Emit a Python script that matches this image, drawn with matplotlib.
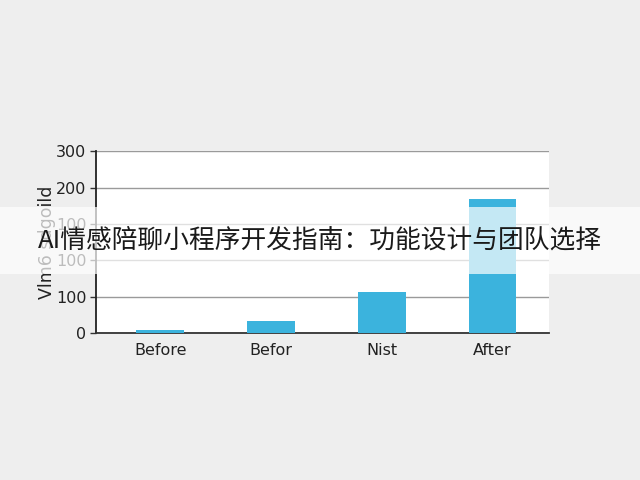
import matplotlib
matplotlib.use('Agg')
import matplotlib.pyplot as plt
from matplotlib.patches import Rectangle

# data
categories = ['Before', 'Befor', 'Nist', 'After']
values = [5, 20, 67, 221]
tick_values = [0, 60, 120, 180, 240, 300]
tick_labels = ['0', '100', '100', '100', '200', '300']
y_label = 'Vlm6 sdgoild'
title = 'AI情感陪聊小程序开发指南：功能设计与团队选择'

fig = plt.figure(figsize=(6.4, 4.8), dpi=100)
fig.patch.set_facecolor('#eeeeee')

ax = fig.add_axes([0.15, 0.306, 0.708, 0.379])
ax.set_facecolor('white')
x = list(range(len(categories)))
ax.bar(x, values, width=0.43, color='#3bb3dd', zorder=3)

ax.set_xlim(-0.58, 3.51)
ax.set_ylim(0, 300)
ax.set_yticks(tick_values)
ax.set_yticklabels(tick_labels, fontsize=11.5, color='#222222', fontweight='medium')
ax.set_xticks(x)
ax.set_xticklabels(categories, fontsize=11.5, color='#222222', fontweight='medium')
ax.tick_params(axis='x', length=0, pad=7)
ax.tick_params(axis='y', length=4, width=1, color='#333333', pad=3)
ax.grid(axis='y', color='#9a9a9a', linewidth=1, zorder=0)
ax.set_ylabel(y_label, fontsize=12.5, color='#222222', labelpad=0)

for side in ['top', 'right']:
    ax.spines[side].set_visible(False)
ax.spines['left'].set_color('#222222')
ax.spines['bottom'].set_color('#333333')
ax.spines['left'].set_linewidth(1.3)
ax.spines['bottom'].set_linewidth(1.3)

# translucent banner with the title
fig.patches.append(Rectangle((0, 0.429), 1, 0.140, transform=fig.transFigure,
                             facecolor='white', alpha=0.7, edgecolor='none', zorder=5))
fig.text(0.5, 0.499, title, ha='center', va='center', fontsize=18.5, color='#1a1a1a',
         family=['Noto Sans CJK SC', 'DejaVu Sans'], zorder=6)

plt.savefig('out.png', dpi=100)
plt.close()
